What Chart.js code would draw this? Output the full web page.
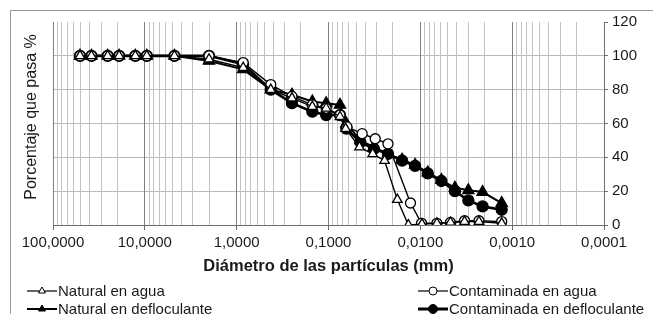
<!DOCTYPE html>
<html>
<head>
<meta charset="utf-8">
<script src="https://cdn.jsdelivr.net/npm/chart.js@4.4.1/dist/chart.umd.min.js"></script>
<style>
  html, body { margin: 0; padding: 0; background: #fff; }
  #wrap { width: 653px; height: 314px; }
</style>
</head>
<body>
<div id="wrap"><canvas id="myChart" width="653" height="314"></canvas></div>
<script>
// sieve sizes (mm) shared by all four tests
const sieveMm = [50.8, 38.1, 25.4, 19.05, 12.7, 9.52, 4.76, 2.0, 0.85, 0.425, 0.25, 0.15, 0.106, 0.075];

// Natural en agua
const naturalAguaMm = sieveMm.concat([0.065, 0.046, 0.033, 0.0245, 0.0178, 0.0135, 0.0096, 0.0066, 0.0047, 0.0033, 0.0023, 0.0013]);
const naturalAguaPct = [100, 100, 100, 100, 100, 100, 100, 98, 93, 80, 75, 70, 69, 64, 57, 46, 42, 38, 15, 0, 0.5, 1, 1.5, 2, 2, 1];

// Contaminada en agua
const contAguaMm = sieveMm.concat([0.063, 0.043, 0.031, 0.0225, 0.0128, 0.0097, 0.0066, 0.0047, 0.0033, 0.0023, 0.0013]);
const contAguaPct = [100, 100, 100, 100, 100, 100, 100, 100, 96, 83, 76, 71, 69, 65, 58, 54, 51, 48, 13, 1, 1, 1.5, 2.5, 2.5, 2];

// Natural en defloculante
const naturalDefMm = sieveMm.concat([0.064, 0.045, 0.032, 0.0225, 0.0158, 0.0114, 0.0083, 0.0059, 0.0042, 0.003, 0.0021, 0.0013]);
const naturalDefPct = [100, 100, 100, 100, 100, 100, 100, 97, 92, 80, 77, 73, 72, 71, 60, 50, 46, 42, 38.5, 35.5, 31, 26.5, 22, 20.5, 19.5, 13];

// Contaminada en defloculante
const contDefMm = sieveMm.concat([0.064, 0.045, 0.032, 0.0225, 0.0158, 0.0114, 0.0083, 0.0059, 0.0042, 0.003, 0.0021, 0.0013]);
const contDefPct = [100, 100, 100, 100, 100, 100, 100, 100, 95, 80, 72, 67, 65, 65, 57, 49, 45, 42, 38, 35, 30.5, 26, 20, 14.5, 11, 9];

const seriesNames = ["Natural en agua", "Contaminada en agua", "Natural en defloculante", "Contaminada en defloculante"];

const xTickValues = [100, 10, 1, 0.1, 0.01, 0.001, 0.0001];
const xTickLabels = ["100,0000", "10,0000", "1,0000", "0,1000", "0,0100", "0,0010", "0,0001"];
const yTickValues = [0, 20, 40, 60, 80, 100, 120];

const FONT = "'Liberation Sans', Arial, sans-serif";
const TEXT = "#1a1a1a";
const AXIS = "#6e6e6e";
const MAJOR = "#808080";
const MINOR = "#c2c2c2";
const HGRID = "#b8b8b8";

function pairs(xs, ys) {
  return xs.map(function (x, i) { return { x: x, y: ys[i] }; });
}

function isDecade(v) {
  const l = Math.log10(v);
  return Math.abs(l - Math.round(l)) < 1e-9;
}

// grid lines: every decade plus 2..9 inside it
const gridValues = [];
xTickValues.forEach(function (d) {
  gridValues.push(d);
  if (d < 100) {
    for (let k = 2; k <= 9; k++) gridValues.push(Number((d * k).toPrecision(6)));
  }
});

const frame = {
  id: "frame",
  beforeDraw(chart) {
    const c = chart.ctx;
    c.save();
    c.fillStyle = "#fff";
    c.fillRect(0, 0, chart.width, chart.height);
    c.strokeStyle = "#9a9a9a";
    c.lineWidth = 1;
    c.strokeRect(10.5, 10.5, chart.width + 20, chart.height + 20);
    // y axis title, drawn a bit above the plot centre like the original
    c.translate(32, 117);
    c.rotate(-Math.PI / 2);
    c.font = "16px " + FONT;
    c.fillStyle = TEXT;
    c.textAlign = "center";
    c.textBaseline = "middle";
    c.fillText("Porcentaje que pasa %", 0, 0);
    c.restore();
  }
};

function marker(c, style, filled, x, y, r) {
  c.beginPath();
  if (style === "triangle") {
    let a = 0;
    c.moveTo(x + Math.sin(a) * r, y - Math.cos(a) * r);
    a += Math.PI * 2 / 3;
    c.lineTo(x + Math.sin(a) * r, y - Math.cos(a) * r);
    a += Math.PI * 2 / 3;
    c.lineTo(x + Math.sin(a) * r, y - Math.cos(a) * r);
    c.closePath();
  } else {
    c.arc(x, y, r, 0, Math.PI * 2);
  }
  c.fillStyle = filled ? "#000" : "#fff";
  c.fill();
  c.strokeStyle = "#000";
  c.lineWidth = 1;
  c.stroke();
}

const legendBox = {
  id: "legendBox",
  afterDraw(chart) {
    const c = chart.ctx;
    const pos = [[27, 291], [418, 291], [27, 309], [418, 309]];
    c.save();
    c.font = "15px " + FONT;
    c.textBaseline = "middle";
    chart.data.datasets.forEach(function (ds, i) {
      const x = pos[i][0], y = pos[i][1];
      c.strokeStyle = "#000";
      c.lineWidth = i === 3 ? 3 : (i === 2 ? 2 : 1.2);
      c.beginPath();
      c.moveTo(x, y);
      c.lineTo(x + 30, y);
      c.stroke();
      marker(c, ds.pointStyle, ds.pointBackgroundColor === "#000", x + 15, y, i === 3 ? 4.5 : 4);
      c.fillStyle = TEXT;
      c.fillText(ds.label, x + 31, y + 1);
    });
    c.restore();
  }
};

function makeSet(i, xs, ys, style, filled, width, radius) {
  return {
    label: seriesNames[i],
    data: pairs(xs, ys),
    showLine: true,
    borderColor: "#000",
    borderWidth: width,
    pointStyle: style,
    pointRadius: radius,
    pointBorderWidth: 1.3,
    pointBorderColor: "#000",
    pointBackgroundColor: filled ? "#000" : "#fff",
    xAxisID: "x",
    yAxisID: "y"
  };
}

const ctx = document.getElementById("myChart").getContext("2d");
const myChart = new Chart(ctx, {
  type: "scatter",
  data: {
    datasets: [
      makeSet(0, naturalAguaMm, naturalAguaPct, "triangle", false, 1.4, 5.5),
      makeSet(1, contAguaMm, contAguaPct, "circle", false, 1.4, 5),
      makeSet(2, naturalDefMm, naturalDefPct, "triangle", true, 2, 6.5),
      makeSet(3, contDefMm, contDefPct, "circle", true, 2.6, 5.5)
    ]
  },
  options: {
    responsive: false,
    animation: false,
    layout: { padding: { top: 22, left: 53, right: 0, bottom: 38 } },
    plugins: {
      legend: { display: false },
      tooltip: { enabled: false }
    },
    scales: {
      y: {
        position: "right",
        min: 0,
        max: 120,
        afterBuildTicks: function (scale) {
          scale.ticks = yTickValues.map(function (v) { return { value: v }; });
        },
        ticks: { font: { family: FONT, size: 15 }, color: TEXT, padding: 4 },
        grid: {
          color: function (c) { return (c.tick && (c.tick.value === 0 || c.tick.value === 120)) ? "rgba(0,0,0,0)" : HGRID; },
          tickColor: AXIS,
          tickLength: 4
        },
        border: { color: AXIS, width: 1 },
        afterFit: function (s) { s.width = 49; }
      },
      x: {
        type: "logarithmic",
        position: "bottom",
        reverse: true,
        min: 0.0001,
        max: 100,
        afterBuildTicks: function (scale) {
          scale.ticks = gridValues.map(function (v) { return { value: v }; });
        },
        ticks: {
          autoSkip: false,
          maxRotation: 0,
          padding: 4,
          font: { family: FONT, size: 15 },
          color: TEXT,
          callback: function (v) {
            const k = xTickValues.findIndex(function (d) { return Math.abs(d - v) < d * 1e-6; });
            return k >= 0 ? xTickLabels[k] : "";
          }
        },
        grid: {
          color: function (c) { return c.tick && isDecade(c.tick.value) ? MAJOR : MINOR; },
          tickColor: function (c) { return c.tick && isDecade(c.tick.value) ? AXIS : "rgba(0,0,0,0)"; },
          tickLength: 5
        },
        border: { color: AXIS, width: 1 },
        title: {
          display: true,
          text: "Diámetro de las partículas (mm)",
          font: { family: FONT, size: 16.5, weight: "bold" },
          color: TEXT,
          padding: 0
        },
        afterFit: function (s) { s.height = 51; }
      }
    }
  },
  plugins: [frame, legendBox]
});
</script>
</body>
</html>
